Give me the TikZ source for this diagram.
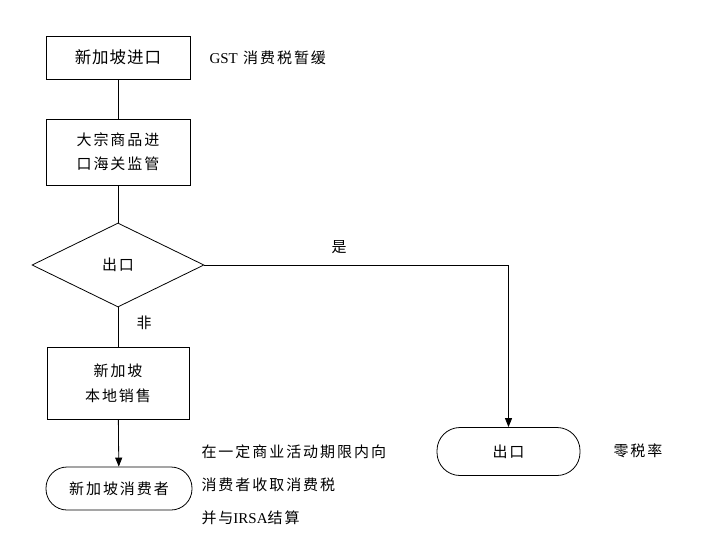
\documentclass[tikz,border=0pt]{standalone}
\usepackage{fontspec}
\setmainfont{Liberation Serif}
\newfontfamily\cjk{Noto Sans CJK SC}[LetterSpace=13]
\newfontfamily\cjkbig{Noto Sans CJK SC}[LetterSpace=6]
\usetikzlibrary{arrows.meta,shapes.geometric}
\begin{document}
\begin{tikzpicture}[x=1pt,y=-1pt,
  every node/.style={font=\cjk\fontsize{15}{17}\selectfont},
  flowbox/.style={draw,line width=0.8pt,inner sep=0pt,align=center},
  termbox/.style={draw,line width=0.8pt,inner sep=0pt,rounded corners=21pt},
  decis/.style={draw,diamond,line width=0.8pt,inner sep=0pt,minimum width=172pt,minimum height=84pt},
  link/.style={line width=0.8pt},
  arr/.style={line width=0.8pt,-{Triangle[length=9pt,width=7pt]}},
  note/.style={anchor=west,align=left}]
\useasboundingbox (0,0) rectangle (727,536);
\node[flowbox,minimum width=144pt,minimum height=43pt,font=\cjkbig\fontsize{16.5}{18}\selectfont] (b1) at (118,57.5) {新加坡进口};
\node[flowbox,minimum width=144pt,minimum height=66pt] (b2) at (118,152) {大宗商品进\\[7pt]口海关监管};
\node[decis] (d) at (118,265) {出口};
\node[flowbox,minimum width=142pt,minimum height=72pt] (b3) at (118,383) {新加坡\\[8pt]本地销售};
\node[termbox,minimum width=146pt,minimum height=43pt] (t1) at (119,488.5) {新加坡消费者};
\node[termbox,minimum width=143pt,minimum height=48pt,rounded corners=23pt] (t2) at (508.5,451.5) {出口};
\draw[link] (b1) -- (b2);
\draw[link] (b2) -- (d.north);
\draw[link] (d.south) -- (b3);
\draw[arr] (b3) -- (t1);
\draw[arr] (d.east) -| (t2.north);
\node[note] (gst) at (206,58) {{\rmfamily\fontsize{15}{17}\selectfont GST} 消费税暂缓};
\node (yes) at (339,247) {是};
\node (no) at (144,323) {非};
\node[note] (n1) at (198,452) {在一定商业活动期限内向};
\node[note] (n2) at (198,485) {消费者收取消费税};
\node[note] (n3) at (198,518) {并与{\rmfamily\fontsize{15}{17}\selectfont IRSA}结算};
\node[note] (zero) at (610,451) {零税率};
\end{tikzpicture}
\end{document}
